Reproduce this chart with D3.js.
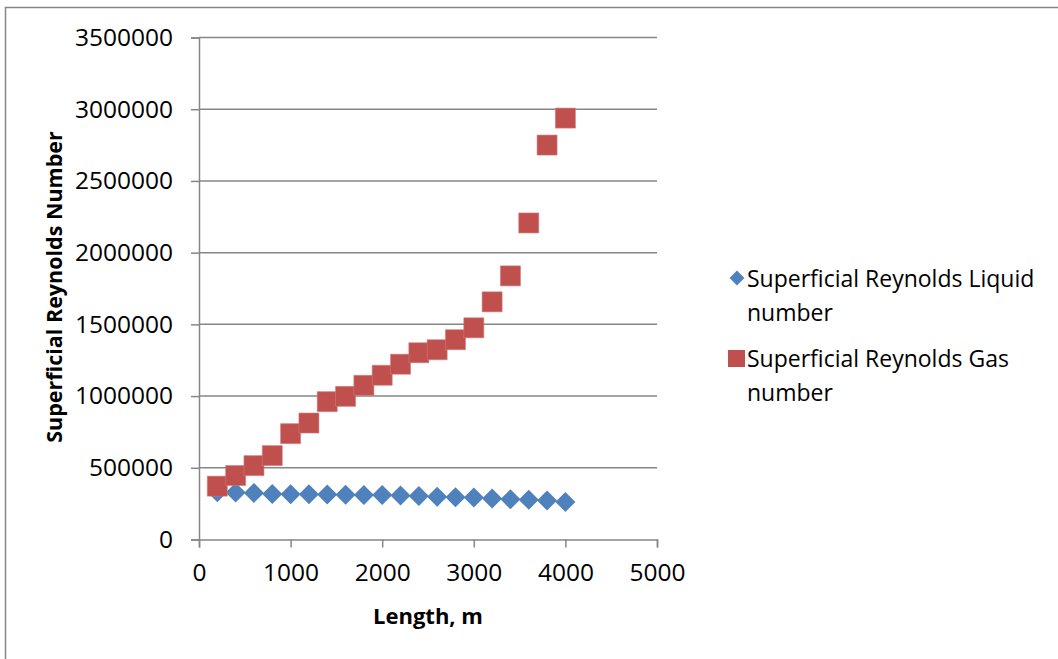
<!DOCTYPE html>
<html>
<head>
<meta charset="utf-8">
<script src="https://cdn.jsdelivr.net/npm/d3@7"></script>
<style>
  body { margin: 0; background: #fff; }
  text { font-family: "Open Sans", sans-serif; fill: #000; }
</style>
</head>
<body>
<div id="canvas"></div>
<script>
const width = 1058;
const height = 659;

// lengths along the pipe, m
var lengths = [200, 400, 600, 800, 1000, 1200, 1400, 1600, 1800, 2000,
    2200, 2400, 2600, 2800, 3000, 3200, 3400, 3600, 3800, 4000];

var liquidRe = [330000, 328000, 325000, 318000, 316000, 315000, 313000, 312000, 311000, 310000,
    306000, 303000, 298000, 295000, 292000, 285000, 280000, 277000, 272000, 262000];

var gasRe = [372000, 446000, 515000, 585000, 738000, 812000, 961000, 998000, 1075000, 1145000,
    1222000, 1302000, 1323000, 1393000, 1476000, 1657000, 1838000, 2207000, 2750000, 2938000];

var xTicks = [0, 1000, 2000, 3000, 4000, 5000];
var yTicks = [0, 500000, 1000000, 1500000, 2000000, 2500000, 3000000, 3500000];

var legendLines = [
    ["Superficial Reynolds Liquid", "number"],
    ["Superficial Reynolds Gas", "number"]
];

const axisColor = "#868686";
const blue = "#4F81BD";
const red = "#C0504D";

const svg = d3.select("#canvas")
    .append("svg")
    .attr("width", width)
    .attr("height", height);

// chart border
svg.append("rect")
    .attr("x", 5.5)
    .attr("y", 7.5)
    .attr("width", width + 10)
    .attr("height", height + 10)
    .attr("fill", "none")
    .attr("stroke", axisColor)
    .attr("stroke-width", 1.5);

var xScale = d3.scaleLinear().domain([0, 5000]).range([199, 657]);
var yScale = d3.scaleLinear().domain([0, 3500000]).range([539.5, 37.5]);

// gridlines
svg.append("g")
    .selectAll("line")
    .data(yTicks.slice(1))
    .join("line")
    .attr("x1", xScale(0))
    .attr("x2", xScale(5000))
    .attr("y1", d => yScale(d))
    .attr("y2", d => yScale(d))
    .attr("stroke", axisColor)
    .attr("stroke-width", 1.5);

// y axis
var yAxis = svg.append("g")
    .attr("transform", `translate(${xScale(0)},0)`)
    .call(d3.axisLeft(yScale).tickValues(yTicks).tickSize(8).tickPadding(18).tickFormat(d3.format("d")));
yAxis.select(".domain").attr("stroke", axisColor).attr("stroke-width", 1.5);
yAxis.selectAll(".tick line").attr("stroke", axisColor).attr("stroke-width", 1.5);
yAxis.selectAll(".tick text")
    .attr("font-size", "24.5px")
    .attr("font-family", "Open Sans, sans-serif")
    .attr("fill", "#000");

// x axis
var xAxis = svg.append("g")
    .attr("transform", `translate(0,${yScale(0)})`)
    .call(d3.axisBottom(xScale).tickValues(xTicks).tickSize(8).tickPadding(16).tickFormat(d3.format("d")));
xAxis.select(".domain").attr("stroke", axisColor).attr("stroke-width", 1.5);
xAxis.selectAll(".tick line").attr("stroke", axisColor).attr("stroke-width", 1.5);
xAxis.selectAll(".tick text")
    .attr("font-size", "24.5px")
    .attr("font-family", "Open Sans, sans-serif")
    .attr("fill", "#000");

// axis titles
svg.append("text")
    .attr("x", 428)
    .attr("y", 624)
    .attr("text-anchor", "middle")
    .attr("font-size", "22px")
    .attr("font-weight", "bold")
    .text("Length, m");

svg.append("text")
    .attr("transform", "translate(62,287) rotate(-90)")
    .attr("text-anchor", "middle")
    .attr("font-size", "21.5px")
    .attr("font-weight", "bold")
    .text("Superficial Reynolds Number");

var diamond = d3.symbol().type(d3.symbolSquare).size(200);
var square = d3.symbol().type(d3.symbolSquare).size(400);

// liquid series (drawn first, gas on top)
svg.append("g")
    .selectAll("path")
    .data(lengths.map((l, i) => [l, liquidRe[i]]))
    .join("path")
    .attr("d", diamond)
    .attr("transform", d => `translate(${xScale(d[0])},${yScale(d[1])}) rotate(45)`)
    .attr("fill", blue);

svg.append("g")
    .selectAll("path")
    .data(lengths.map((l, i) => [l, gasRe[i]]))
    .join("path")
    .attr("d", square)
    .attr("transform", d => `translate(${xScale(d[0])},${yScale(d[1])})`)
    .attr("fill", red)
    .attr("stroke", "#d07a78")
    .attr("stroke-width", 0.6);

// legend
var legend = svg.append("g");
legend.append("path")
    .attr("d", d3.symbol().type(d3.symbolSquare).size(110))
    .attr("transform", "translate(737,278) rotate(45)")
    .attr("fill", blue);
legend.append("rect")
    .attr("x", 728)
    .attr("y", 350)
    .attr("width", 17)
    .attr("height", 17)
    .attr("fill", red);

legendLines.forEach((lines, i) => {
    lines.forEach((t, j) => {
        legend.append("text")
            .attr("x", 747)
            .attr("y", 287 + i * 80 + j * 34)
            .attr("font-size", "23px")
            .text(t);
    });
});
</script>
</body>
</html>
